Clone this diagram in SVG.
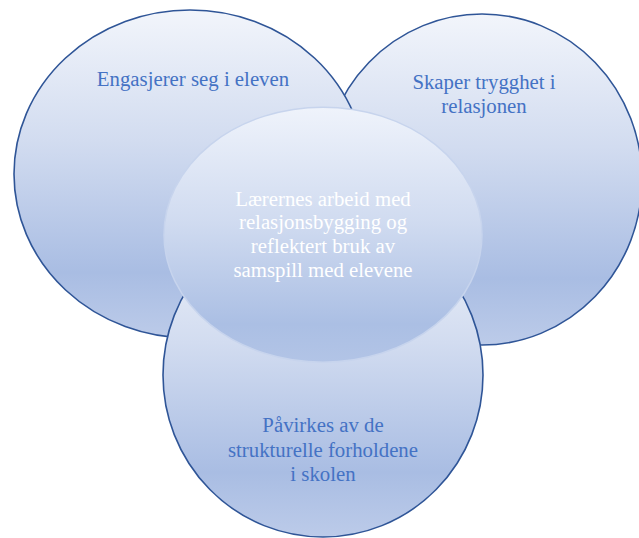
<svg xmlns="http://www.w3.org/2000/svg" width="639" height="538" viewBox="0 0 639 538">
  <defs>
    <!-- soft blue fill used by the three outer circles -->
    <linearGradient id="outerFill" x1="0" y1="0" x2="0" y2="1">
      <stop offset="0" stop-color="#f2f5fb"/>
      <stop offset="0.4" stop-color="#d2dcf0"/>
      <stop offset="0.8" stop-color="#a9bde3"/>
      <stop offset="1" stop-color="#bccbe9"/>
    </linearGradient>
    <!-- fill for the central ellipse -->
    <linearGradient id="centerFill" x1="0" y1="0" x2="0" y2="1">
      <stop offset="0" stop-color="#eff3fb"/>
      <stop offset="0.45" stop-color="#d0dbf0"/>
      <stop offset="0.85" stop-color="#abbfe4"/>
      <stop offset="1" stop-color="#b2c4e6"/>
    </linearGradient>
    <style>
      .outer { fill: url(#outerFill); stroke: #2f5597; stroke-width: 1.6; }
      .center { fill: url(#centerFill); stroke: #c7d4ed; stroke-width: 1.5; }
      .label { font-family: "Liberation Serif", "Times New Roman", serif; font-size: 20.8px; text-anchor: middle; fill: #4472c4; }
      .label-light { fill: #ffffff; }
    </style>
  </defs>

  <!-- right circle -->
  <g id="node-trygghet">
    <ellipse class="outer" cx="482" cy="179.5" rx="160" ry="165.5"/>
    <text class="label" x="484" y="88.5">Skaper trygghet i</text>
    <text class="label" x="484" y="113">relasjonen</text>
  </g>

  <!-- left circle -->
  <g id="node-engasjerer">
    <ellipse class="outer" cx="190" cy="174" rx="176" ry="164"/>
    <text class="label" x="193" y="86">Engasjerer seg i eleven</text>
  </g>

  <!-- bottom circle -->
  <g id="node-strukturelle">
    <ellipse class="outer" cx="323" cy="375" rx="160" ry="162"/>
    <text class="label" x="323" y="431.7">Påvirkes av de</text>
    <text class="label" x="323" y="456.5">strukturelle forholdene</text>
    <text class="label" x="323" y="480.7">i skolen</text>
  </g>

  <!-- central ellipse -->
  <g id="node-laerernes">
    <ellipse class="center" cx="323" cy="234.7" rx="159" ry="127.5"/>
    <text class="label label-light" x="323" y="206">Lærernes arbeid med</text>
    <text class="label label-light" x="323" y="229.4">relasjonsbygging og</text>
    <text class="label label-light" x="323" y="252.8">reflektert bruk av</text>
    <text class="label label-light" x="323" y="276.6">samspill med elevene</text>
  </g>

  <g id="connectors"/>
</svg>
